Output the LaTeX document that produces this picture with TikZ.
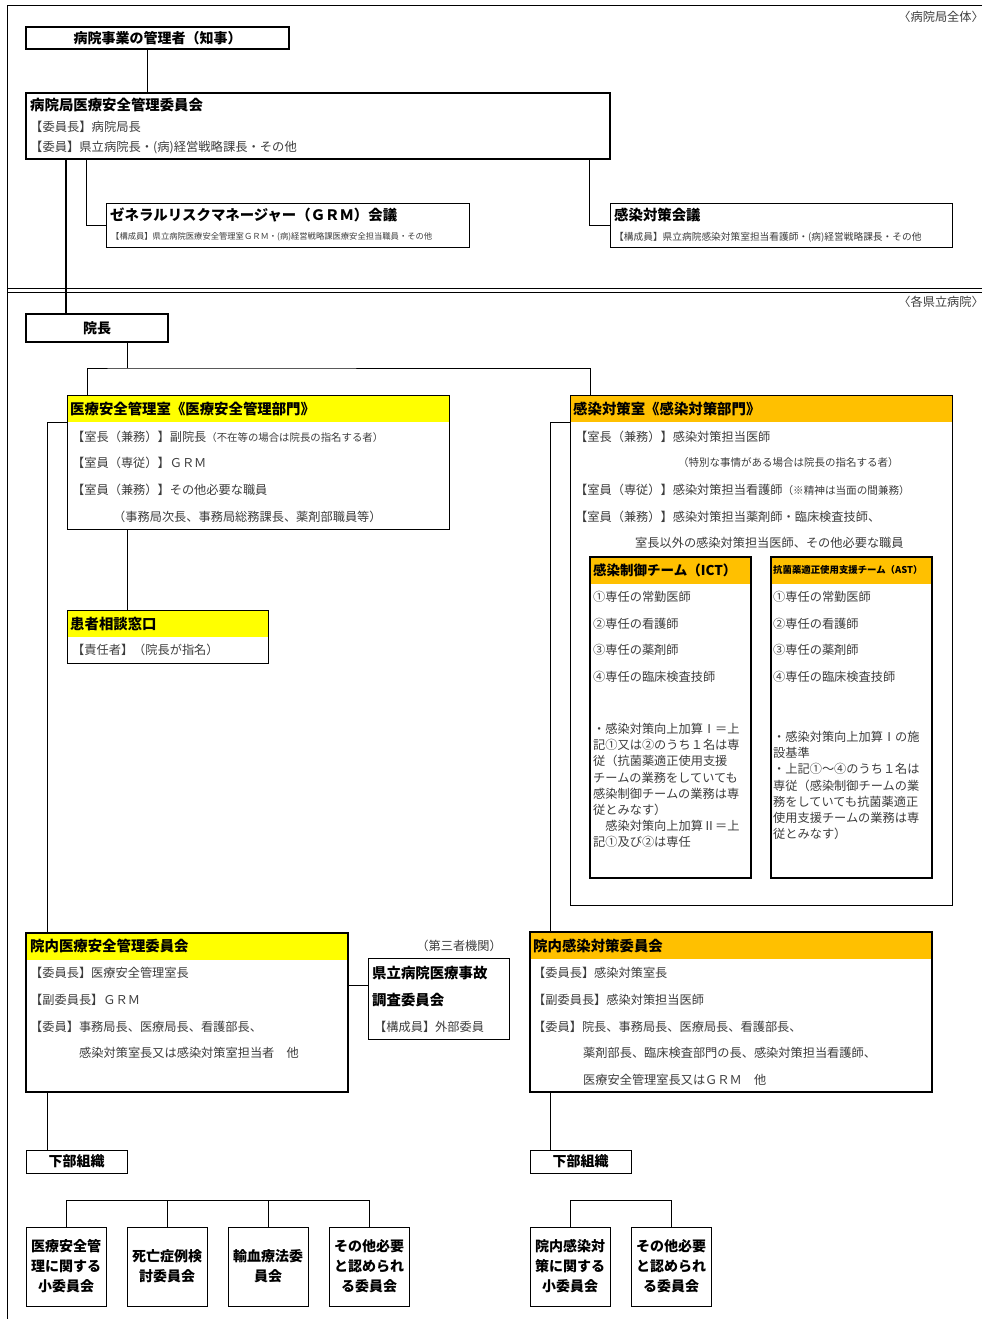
\documentclass[tikz,border=0pt]{standalone}
\usepackage{fontspec}
\setmainfont{Noto Sans CJK JP}
\usetikzlibrary{calc}

\definecolor{hdryellow}{RGB}{255,255,0}
\definecolor{hdrorange}{RGB}{255,192,0}
\definecolor{bodytext}{RGB}{60,60,60}

\tikzset{
  box/.style={draw, line width=1pt, inner sep=0pt, outer sep=0pt, anchor=north west},
  thickbox/.style={box, line width=1.8pt},
  hdr/.style={path picture={\fill[#1] (path picture bounding box.north west) rectangle ([yshift=-27pt]path picture bounding box.north east);}},
  ttl/.style={anchor=west, inner sep=0pt, font=\bfseries\fontsize{14.4}{16}\selectfont},
  txt/.style={anchor=west, inner sep=0pt, text=bodytext, font=\fontsize{12.2}{16.2}\selectfont},
  subbox/.style={box, minimum width=80, minimum height=79, align=center, font=\bfseries\fontsize{14}{20}\selectfont},
  link/.style={line width=0.8pt},
}

\begin{document}
\begin{tikzpicture}[x=1pt, y=-1pt]
\useasboundingbox (0,0) rectangle (982,1319);

% Frame and dividing double line
\draw[line width=0.8pt] (982,5) -- (7,5) -- (7,1319);
\draw[line width=0.8pt] (7,288) -- (982,288) (7,292) -- (982,292);
\node[txt, anchor=east] (lblall) at (984,17) {〈病院局全体〉};
\node[txt, anchor=east] (lblhosp) at (984,302) {〈各県立病院〉};

% Hospital bureau level
\node[thickbox, minimum width=263, minimum height=22, font=\bfseries\fontsize{14}{16}\selectfont] (kanri) at (26,27) {病院事業の管理者（知事）};
\node[thickbox, minimum width=584, minimum height=66] (kyoku) at (26,93) {};
\node[ttl] (kyokuttl) at (30,105) {病院局医療安全管理委員会};
\node[txt, font=\fontsize{12.3}{14}\selectfont] (kyokuch) at (30,127) {【委員長】病院局長};
\node[txt, font=\fontsize{12.3}{14}\selectfont] (kyokumem) at (30,148) {【委員】県立病院長・(病)経営戦略課長・その他};

\node[box, minimum width=363, minimum height=44] (grm) at (106,203) {};
\node[ttl] (grmttl) at (110,215) {ゼネラルリスクマネージャー（ＧＲＭ）会議};
\node[txt, font=\fontsize{8.3}{10}\selectfont] (grmmem) at (111,237) {【構成員】県立病院医療安全管理室ＧＲＭ・(病)経営戦略課医療安全担当職員・その他};

\node[box, minimum width=342, minimum height=44] (kaigi) at (610,203) {};
\node[ttl] (kaigittl) at (614,215) {感染対策会議};
\node[txt, font=\fontsize{9.7}{11}\selectfont] (kaigimem) at (614,237) {【構成員】県立病院感染対策室担当看護師・(病)経営戦略課長・その他};

\draw[link] (147,0 |- kanri.south) -- (147,0 |- kyoku.north);
\draw[link] (86,0 |- kyoku.south) |- (grm.west);
\draw[link] (589,0 |- kyoku.south) |- (kaigi.west);

% Hospital level
\node[thickbox, minimum width=142, minimum height=28, font=\bfseries\fontsize{14}{16}\selectfont] (incho) at (26,314) {院長};
\draw[line width=1.4pt] (66,0 |- kyoku.south) -- (66,0 |- incho.north);

% Medical safety department
\node[box, hdr=hdryellow, minimum width=382, minimum height=134] (anzen) at (67,395) {};
\node[ttl] (anzenttl) at (70,409) {医療安全管理室《医療安全管理部門》};
\node[txt] (anzen1) at (72,437) {【室長（兼務）】副院長{\fontsize{10.4}{12}\selectfont（不在等の場合は院長の指名する者）}};
\node[txt] (anzen2) at (72,463) {【室員（専従）】ＧＲＭ};
\node[txt] (anzen3) at (72,490) {【室員（兼務）】その他必要な職員};
\node[txt] (anzen4) at (113,517) {（事務局次長、事務局総務課長、薬剤部職員等）};

\node[box, hdr=hdryellow, minimum width=201, minimum height=53] (soudan) at (67,610) {};
\node[ttl] (soudanttl) at (70,624) {患者相談窓口};
\node[txt] (soudan1) at (72,650) {【責任者】（院長が指名）};

% Infection control department
\node[box, hdr=hdrorange, minimum width=382, minimum height=510] (kansen) at (570,395) {};
\node[ttl] (kansenttl) at (573,409) {感染対策室《感染対策部門》};
\node[txt] (kansen1) at (575,437) {【室長（兼務）】感染対策担当医師};
\node[txt, font=\fontsize{10.5}{12}\selectfont] (kansen2) at (678,463) {（特別な事情がある場合は院長の指名する者）};
\node[txt] (kansen3) at (575,490) {【室員（専従）】感染対策担当看護師{\fontsize{10.6}{12}\selectfont（※精神は当面の間兼務）}};
\node[txt] (kansen4) at (575,517) {【室員（兼務）】感染対策担当薬剤師・臨床検査技師、};
\node[txt] (kansen5) at (635,543) {室長以外の感染対策担当医師、その他必要な職員};

% ICT and AST
\node[box, hdr=hdrorange, line width=1.4pt, minimum width=161, minimum height=321] (ict) at (590,557) {};
\node[ttl, font=\bfseries\fontsize{13.5}{16}\selectfont] (ictttl) at (593,570) {感染制御チーム（ICT）};
\node[box, hdr=hdrorange, line width=1.4pt, minimum width=161, minimum height=321] (ast) at (771,557) {};
\node[ttl, font=\bfseries\fontsize{9.4}{11}\selectfont] (astttl) at (773,570) {抗菌薬適正使用支援チーム（AST）};
\foreach \t [count=\i] in {①専任の常勤医師,②専任の看護師,③専任の薬剤師,④専任の臨床検査技師} {
  \node[txt] (ict\i) at (593,{570+26.7*\i}) {\t};
  \node[txt] (ast\i) at (773,{570+26.7*\i}) {\t};
}
\node[txt, anchor=north west, align=left] (ictnote) at (593,723) {・感染対策向上加算Ⅰ＝上\\記①又は②のうち１名は専\\従（抗菌薬適正使用支援\\チームの業務をしていても\\感染制御チームの業務は専\\従とみなす）\\　感染対策向上加算Ⅱ＝上\\記①及び②は専任};
\node[txt, anchor=north west, align=left] (astnote) at (773,731) {・感染対策向上加算Ⅰの施\\設基準\\・上記①～④のうち１名は\\専従（感染制御チームの業\\務をしていても抗菌薬適正\\使用支援チームの業務は専\\従とみなす）};

% Committees
\node[thickbox, hdr=hdryellow, minimum width=322, minimum height=159] (iinkai) at (26,933) {};
\node[ttl] (iinkaittl) at (30,946) {院内医療安全管理委員会};
\node[txt] (iinkai1) at (30,973) {【委員長】医療安全管理室長};
\node[txt] (iinkai2) at (30,1000) {【副委員長】ＧＲＭ};
\node[txt] (iinkai3) at (30,1027) {【委員】事務局長、医療局長、看護部長、};
\node[txt] (iinkai4) at (79,1053) {感染対策室長又は感染対策室担当者　他};

\node[txt, anchor=east] (daisan) at (502,946) {（第三者機関）};
\node[box, minimum width=141, minimum height=81] (jiko) at (368,958) {};
\node[ttl] (jiko1) at (372,973) {県立病院医療事故};
\node[ttl] (jiko2) at (372,1000) {調査委員会};
\node[txt] (jiko3) at (374,1027) {【構成員】外部委員};

\node[thickbox, hdr=hdrorange, minimum width=402, minimum height=160] (ikansen) at (530,932) {};
\node[ttl] (ikansenttl) at (533,946) {院内感染対策委員会};
\node[txt] (ikansen1) at (533,973) {【委員長】感染対策室長};
\node[txt] (ikansen2) at (533,1000) {【副委員長】感染対策担当医師};
\node[txt] (ikansen3) at (533,1027) {【委員】院長、事務局長、医療局長、看護部長、};
\node[txt] (ikansen4) at (583,1053) {薬剤部長、臨床検査部門の長、感染対策担当看護師、};
\node[txt] (ikansen5) at (583,1080) {医療安全管理室長又はＧＲＭ　他};

% Sub-organisations
\node[box, minimum width=101, minimum height=23, font=\bfseries\fontsize{14}{16}\selectfont] (kabul) at (26,1150) {下部組織};
\node[box, minimum width=101, minimum height=23, font=\bfseries\fontsize{14}{16}\selectfont] (kabur) at (530,1150) {下部組織};
\foreach \x/\n/\t in {26/s1/{医療安全管\\理に関する\\小委員会}, 127/s2/{死亡症例検\\討委員会}, 228/s3/{輸血療法委\\員会}, 329/s4/{その他必要\\と認められ\\る委員会}, 530/s5/{院内感染対\\策に関する\\小委員会}, 631/s6/{その他必要\\と認められ\\る委員会}}
  \node[subbox] (\n) at (\x,1227) {\t};

% Connectors
\coordinate (fork) at (127,368);
\draw[link] (fork |- incho.south) -- (fork);
\draw[link] (87,0 |- anzen.north) |- (fork) -| (590,0 |- kansen.north);
\draw[link] (127,0 |- anzen.south) -- (127,0 |- soudan.north);
\draw[link] ([yshift=-27pt]anzen.north west) -| (47,0 |- iinkai.north);
\draw[link] ([yshift=-27pt]kansen.north west) -| (550,0 |- ikansen.north);
\draw[link] (iinkai.east |- 0,985) -- (jiko.west |- 0,985);
\draw[link] (47,0 |- iinkai.south) -- (47,0 |- kabul.north);
\draw[link] (550,0 |- ikansen.south) -- (550,0 |- kabur.north);
\draw[link] (s1.north) |- (s4.north |- 0,1200) -- (s4.north);
\draw[link] (s5.north) |- (s6.north |- 0,1200) -- (s6.north);
\foreach \n in {s2,s3}
  \draw[link] (\n.north) -- (\n.north |- 0,1200);
\end{tikzpicture}
\end{document}
